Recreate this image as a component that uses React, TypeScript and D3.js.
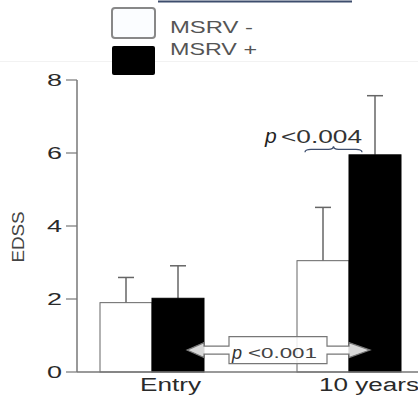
import React from "react";
import * as d3 from "d3";

const categories = ["Entry", "10 years"];
const series = ["MSRV -", "MSRV +"];
const msrvNeg = [1.9, 3.05];
const msrvPos = [2.02, 5.95];
const msrvNegUpper = [2.59, 4.51];
const msrvPosUpper = [2.91, 7.57];
const yTicks = [0, 2, 4, 6, 8];
const yLabel = "EDSS";
const pEntryVs10 = "<0.001";
const p10yGroups = "<0.004";

const W = 418;
const H = 401;

export default function App() {
  const y = d3.scaleLinear().domain([0, 8]).range([372, 80]);
  const x = d3.scalePoint<string>().domain(categories).range([152, 349]);
  const sub = d3.scaleBand<string>().domain(series).range([-52, 52]);
  const bw = sub.bandwidth();
  const values = [msrvNeg, msrvPos];
  const uppers = [msrvNegUpper, msrvPosUpper];
  const fills = ["#ffffff", "#000000"];
  const strokes = ["#666", "#000"];
  const axisX = 77;
  const y0 = y(0);

  // double arrow + box annotation
  const ay = y(0.6);
  const leftBase = (x("Entry") as number) + (sub("MSRV +") as number) + bw;
  const rightBase = (x("10 years") as number) + (sub("MSRV +") as number);
  const tipL = leftBase - 17;
  const tipR = rightBase + 21;
  const boxL = 229;
  const boxR = 327;
  const sh = 4;
  const hh = 7.5;
  const bTop = ay - 13.5;
  const bBot = ay + 13.5;
  const pts: [number, number][] = [
    [tipL, ay], [leftBase, ay - hh], [leftBase, ay - sh], [boxL, ay - sh], [boxL, bTop],
    [boxR, bTop], [boxR, ay - sh], [rightBase, ay - sh], [rightBase, ay - hh], [tipR, ay],
    [rightBase, ay + hh], [rightBase, ay + sh], [boxR, ay + sh], [boxR, bBot], [boxL, bBot],
    [boxL, ay + sh], [leftBase, ay + sh], [leftBase, ay + hh],
  ];
  const arrowPath = d3.line()(pts) + "Z";

  // brace over 10 years
  const bx0 = 305, bx1 = 362, by = y(6.1);
  const mid = (bx0 + bx1) / 2;
  const brace = `M${bx0},${by + 3} Q${bx0},${by} ${bx0 + 6},${by} L${mid - 5},${by} Q${mid},${by} ${mid},${by - 3} Q${mid},${by} ${mid + 5},${by} L${bx1 - 6},${by} Q${bx1},${by} ${bx1},${by + 3}`;

  const font = "Liberation Sans, Arial, sans-serif";

  return (
    <div style={{ position: "absolute", left: 0, top: 0 }}>
      <svg width={W} height={H} style={{ display: "block", background: "#fff" }} fontFamily={font}>
        <line x1={158} x2={352} y1={1.5} y2={1.5} stroke="#3d4d6d" strokeWidth={2} />
        <line x1={0} x2={W} y1={61.5} y2={61.5} stroke="#f2f2f2" strokeWidth={1} />
        {/* legend */}
        <rect x={112} y={8} width={43} height={30} rx={3} fill="#fbfdff" stroke="#888" strokeWidth={2} />
        <rect x={112} y={46} width={43} height={29} rx={2} fill="#000" />
        <text x={170} y={33} fontSize={17} fill="#555" textLength={83} lengthAdjust="spacingAndGlyphs">{series[0]}</text>
        <text x={170} y={55} fontSize={17} fill="#555" textLength={87} lengthAdjust="spacingAndGlyphs">{series[1]}</text>

        {/* y axis */}
        <line x1={axisX} x2={axisX} y1={y(8)} y2={y0} stroke="#777" strokeWidth={1.5} />
        {yTicks.map((t) => (
          <g key={t}>
            <line x1={66} x2={axisX} y1={y(t)} y2={y(t)} stroke="#777" strokeWidth={1.2} />
            <text x={62} y={y(t) + 5.5} fontSize={16} fill="#2a2a2a" textAnchor="end" textLength={15} lengthAdjust="spacingAndGlyphs">{t}</text>
          </g>
        ))}
        <text transform={`translate(24,237) rotate(-90)`} fontSize={16} fill="#444" textAnchor="middle" textLength={51} lengthAdjust="spacingAndGlyphs">{yLabel}</text>

        {/* bars */}
        {categories.map((c, ci) =>
          series.map((s, si) => {
            const bx = (x(c) as number) + (sub(s) as number);
            const v = values[si][ci];
            const u = uppers[si][ci];
            const cx = bx + bw / 2;
            return (
              <g key={c + s}>
                <line x1={cx} x2={cx} y1={y(v)} y2={y(u)} stroke="#666" strokeWidth={1.5} />
                <line x1={cx - 8} x2={cx + 8} y1={y(u)} y2={y(u)} stroke="#666" strokeWidth={1.5} />
                <rect x={bx} y={y(v)} width={bw} height={y0 - y(v)} fill={fills[si]} stroke={strokes[si]} strokeWidth={1} />
              </g>
            );
          })
        )}
        <line x1={axisX} x2={W} y1={y0} y2={y0} stroke="#777" strokeWidth={1.5} />

        {/* category labels */}
        <text x={140} y={391} fontSize={18} fill="#2a2a2a" textLength={61} lengthAdjust="spacingAndGlyphs">{categories[0]}</text>
        <text x={319} y={391} fontSize={18} fill="#2a2a2a" textLength={100} lengthAdjust="spacingAndGlyphs">{categories[1]}</text>

        {/* annotations */}
        <path d={arrowPath} fill="#ffffff" fillOpacity={0.85} stroke="#777" strokeWidth={1.2} />
        <text x={232} y={359} fontSize={18} fill="#333" fontStyle="italic">p</text>
        <text x={248} y={358} fontSize={14} fill="#444" textLength={69} lengthAdjust="spacingAndGlyphs">{pEntryVs10}</text>
        <text x={265} y={143} fontSize={21} fill="#222" fontStyle="italic">p</text>
        <text x={281} y={143} fontSize={18} fill="#333" textLength={81} lengthAdjust="spacingAndGlyphs">{p10yGroups}</text>
        <path d={brace} fill="none" stroke="#3d4d6d" strokeWidth={1.3} />
      </svg>
    </div>
  );
}
